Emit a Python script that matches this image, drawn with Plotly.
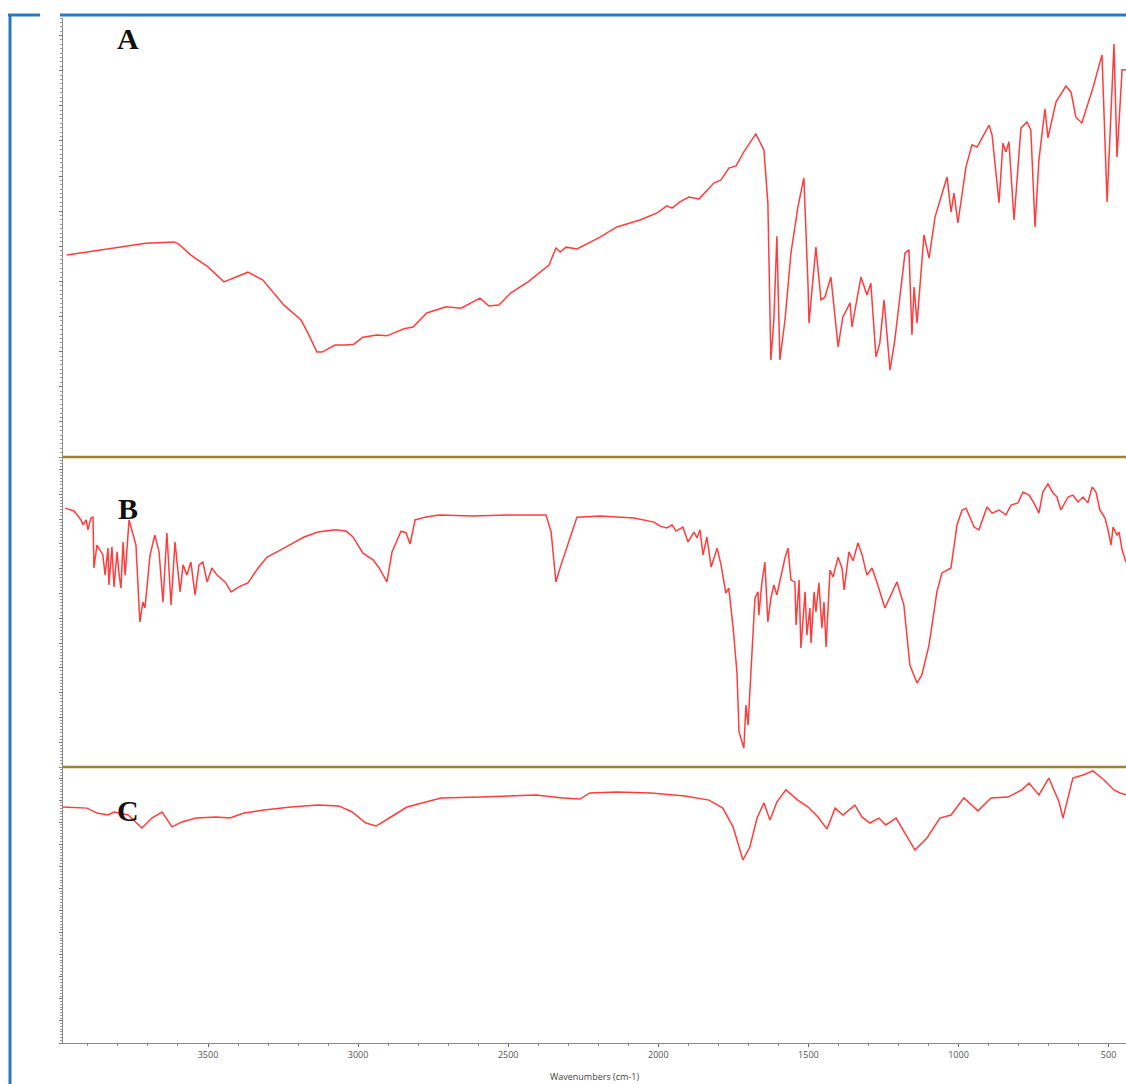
import plotly.graph_objects as go

# FTIR spectra (wavenumber in cm-1, transmittance in arbitrary % units)
wn_a = [3970, 3856, 3707, 3613, 3597, 3557, 3500, 3447, 3407, 3367, 3317, 3247, 3190, 3167,
        3137, 3120, 3077, 3040, 3014, 2984, 2937, 2904, 2847, 2817, 2771, 2707, 2657, 2594,
        2564, 2531, 2491, 2434, 2364, 2341, 2327, 2307, 2271, 2194, 2138, 2061, 2004, 1971,
        1954, 1928, 1898, 1864, 1815, 1791, 1765, 1741, 1715, 1675, 1648, 1635, 1625, 1615,
        1605, 1595, 1578, 1558, 1535, 1515, 1501, 1498, 1485, 1475, 1458, 1445, 1425, 1401,
        1385, 1361, 1355, 1325, 1305, 1292, 1275, 1262, 1248, 1228, 1212, 1178, 1165, 1155,
        1148, 1138, 1115, 1098, 1078, 1038, 1025, 1015, 1002, 975, 955, 938, 898, 888, 865,
        852, 842, 832, 815, 792, 772, 759, 745, 732, 712, 702, 675, 642, 625, 609, 589, 552,
        522, 505, 482, 472, 455, 442]
t_a = [46.0, 47.2, 48.7, 49.0, 48.5, 46.0, 43.3, 39.9, 41.0, 42.1, 40.3, 34.6, 31.2, 28.2,
       23.9, 23.9, 25.5, 25.5, 25.7, 27.3, 27.8, 27.6, 29.2, 29.6, 32.8, 34.2, 33.9, 36.2,
       34.4, 34.6, 37.4, 39.9, 43.7, 47.6, 46.7, 47.8, 47.4, 50.1, 52.4, 54.0, 55.6, 57.2,
       56.7, 58.1, 59.2, 58.8, 62.4, 63.1, 65.8, 66.3, 69.5, 73.6, 69.9, 57.9, 22.1, 31.2,
       50.3, 22.1, 31.2, 46.5, 56.9, 63.6, 38.7, 30.5, 40.3, 47.8, 35.8, 36.4, 41.0, 25.1,
       31.9, 35.1, 29.6, 41.0, 36.9, 39.6, 22.8, 26.0, 35.8, 19.8, 26.7, 46.5, 47.2, 27.8,
       38.7, 30.5, 50.6, 45.3, 54.7, 63.8, 55.8, 60.1, 53.3, 66.1, 71.1, 70.6, 75.6, 73.3, 57.9,
       71.5, 69.5, 71.8, 54.0, 74.9, 76.3, 74.5, 52.4, 67.7, 79.3, 72.7, 80.9, 84.5, 83.1, 77.4,
       76.1, 84.1, 91.6, 58.1, 94.1, 68.3, 88.2, 88.2]

wn_b = [3976, 3946, 3923, 3916, 3906, 3900, 3890, 3883, 3880, 3870, 3856, 3850, 3843, 3833,
        3830, 3820, 3813, 3803, 3796, 3790, 3783, 3776, 3763, 3753, 3740, 3727, 3717, 3710,
        3693, 3677, 3663, 3650, 3637, 3623, 3610, 3593, 3583, 3570, 3557, 3543, 3530, 3517,
        3503, 3487, 3470, 3443, 3423, 3397, 3367, 3333, 3303, 3247, 3180, 3134, 3077, 3040,
        3017, 2984, 2950, 2930, 2904, 2887, 2857, 2840, 2827, 2810, 2777, 2731, 2617, 2501,
        2374, 2357, 2341, 2324, 2294, 2271, 2194, 2081, 2014, 1994, 1971, 1954, 1941, 1918,
        1901, 1881, 1871, 1861, 1851, 1838, 1824, 1804, 1791, 1775, 1765, 1751, 1738, 1731,
        1715, 1708, 1701, 1688, 1678, 1668, 1665, 1655, 1645, 1635, 1625, 1615, 1605, 1578,
        1568, 1558, 1545, 1541, 1531, 1525, 1511, 1505, 1495, 1491, 1481, 1475, 1465, 1455,
        1448, 1441, 1428, 1418, 1401, 1388, 1381, 1365, 1351, 1335, 1321, 1305, 1288, 1272,
        1245, 1205, 1182, 1162, 1138, 1122, 1098, 1072, 1055, 1025, 1005, 988, 975, 948, 932,
        905, 888, 865, 842, 825, 802, 785, 765, 749, 732, 719, 702, 685, 672, 659, 635, 619,
        602, 585, 569, 555, 542, 529, 512, 502, 492, 485, 472, 465, 455, 442]
t_b = [83.5, 82.6, 79.7, 78.1, 79.7, 76.5, 80.3, 80.6, 64.2, 71.6, 69.4, 68.4, 61.9, 70.6,
       58.7, 71.0, 58.1, 69.4, 61.9, 57.7, 72.6, 61.9, 79.7, 76.5, 71.6, 46.8, 53.2, 51.3,
       68.4, 74.8, 69.4, 53.2, 75.5, 52.3, 72.6, 56.5, 65.2, 61.9, 66.1, 55.5, 65.2, 66.1,
       59.7, 64.2, 61.9, 59.7, 56.5, 58.1, 59.4, 64.2, 67.7, 70.6, 74.2, 75.8, 76.5, 76.1,
       74.2, 69.0, 66.8, 64.2, 59.7, 69.4, 76.1, 75.5, 71.9, 79.7, 80.6, 81.3, 81.0, 81.3,
       81.3, 75.8, 59.7, 65.2, 73.9, 80.6, 81.0, 80.3, 79.0, 77.7, 77.1, 78.1, 76.1, 77.4,
       72.6, 75.8, 73.9, 76.5, 68.4, 74.2, 64.5, 70.6, 65.2, 56.1, 57.7, 45.2, 30.6, 11.3,
       6.1, 20.0, 13.5, 36.1, 54.5, 56.5, 49.0, 59.4, 66.1, 46.8, 54.5, 58.7, 55.5, 67.4,
       70.6, 60.3, 59.7, 45.8, 60.3, 38.4, 56.5, 42.6, 51.3, 40.0, 56.5, 50.0, 59.4, 44.8,
       53.2, 38.7, 63.5, 61.3, 67.7, 64.2, 57.1, 69.4, 66.5, 72.3, 68.4, 61.9, 64.2, 59.7,
       51.3, 59.7, 52.3, 32.9, 27.1, 29.7, 39.4, 56.5, 62.6, 64.2, 78.1, 82.9, 83.5, 77.4, 76.5,
       83.9, 81.9, 82.9, 81.3, 84.5, 85.2, 88.7, 87.7, 85.2, 81.9, 88.7, 91.3, 88.4, 87.1, 82.9,
       87.1, 87.7, 85.5, 87.1, 85.2, 90.3, 88.7, 82.9, 80.3, 76.5, 71.6, 77.4, 74.8, 75.8,
       70.0, 66.1]

wn_c = [3983, 3903, 3870, 3833, 3813, 3766, 3720, 3687, 3653, 3620, 3587, 3540, 3473, 3427,
        3380, 3313, 3224, 3134, 3064, 3020, 2974, 2940, 2907, 2837, 2724, 2591, 2407, 2374,
        2317, 2261, 2228, 2138, 2024, 1911, 1831, 1785, 1751, 1718, 1695, 1671, 1648, 1628,
        1605, 1575, 1535, 1501, 1468, 1438, 1411, 1385, 1345, 1322, 1295, 1265, 1242, 1208,
        1175, 1145, 1105, 1062, 1025, 982, 935, 892, 835, 789, 765, 732, 699, 665, 652, 619,
        585, 552, 515, 482, 462, 442]
t_c = [85.5, 85.1, 83.3, 82.6, 83.7, 82.6, 77.9, 81.5, 83.7, 78.3, 80.1, 81.5, 81.9, 81.5,
       83.3, 84.4, 85.5, 86.2, 85.9, 83.7, 79.7, 78.6, 80.8, 85.5, 88.8, 89.1, 89.9, 89.5,
       88.8, 88.4, 90.6, 90.9, 90.6, 89.5, 88.0, 85.1, 78.3, 66.3, 71.0, 81.5, 87.0, 80.8,
       87.3, 91.7, 88.0, 85.5, 81.9, 77.5, 85.1, 82.6, 86.2, 81.9, 79.7, 81.5, 79.0, 81.5,
       75.4, 69.9, 74.3, 81.5, 82.6, 88.8, 84.1, 88.8, 89.1, 91.7, 94.2, 89.9, 96.0, 87.3,
       81.5, 96.0, 97.1, 98.6, 95.3, 91.7, 90.6, 89.9]

panel_labels = ["A", "B", "C"]
x_tick_values = [3500, 3000, 2500, 2000, 1500, 1000, 500]
x_title = "Wavenumbers (cm-1)"

W, H = 1126, 1084
ML, MR, MT, MB = 63, 0, 18, 41
plot_h = H - MT - MB

# vertical pixel boundaries of the three stacked panels
bounds = [18, 457, 767, 1043]
dom = [((H - MB - b2) / plot_h, (H - MB - b1) / plot_h) for b1, b2 in zip(bounds[:-1], bounds[1:])]

RED = "#ff3d3d"
fig = go.Figure()
for i, (wn, t) in enumerate([(wn_a, t_a), (wn_b, t_b), (wn_c, t_c)]):
    fig.add_trace(go.Scatter(x=wn, y=t, mode="lines", xaxis="x",
                             yaxis="y" if i == 0 else f"y{i+1}",
                             line=dict(color=RED, width=1.5), showlegend=False,
                             hoverinfo="x+y"))

yax_common = dict(range=[0, 100], showgrid=False, zeroline=False, showline=True,
                  linecolor="#8a8a8a", linewidth=1, ticks="outside", ticklen=3,
                  tickcolor="#777", dtick=8, showticklabels=False,
                  minor=dict(ticks="outside", ticklen=2, tickcolor="#999", dtick=1),
                  anchor="x", fixedrange=True)

layout = dict(
    width=W, height=H,
    margin=dict(l=ML, r=MR, t=MT, b=MB),
    paper_bgcolor="white", plot_bgcolor="white",
    xaxis=dict(range=[3983, 442], anchor="y3", showgrid=False, zeroline=False,
               showline=True, linecolor="#8a8a8a", linewidth=1,
               tickmode="array", tickvals=x_tick_values,
               ticks="outside", ticklen=3, tickcolor="#666",
               minor=dict(ticks="outside", ticklen=2, tickcolor="#888", dtick=100, tick0=0),
               tickfont=dict(family="Open Sans", size=9, color="#555"),
               title=dict(text=x_title, standoff=13,
                          font=dict(family="Open Sans", size=9, color="#444"))),
    yaxis=dict(domain=list(dom[0]), **yax_common),
    yaxis2=dict(domain=list(dom[1]), **yax_common),
    yaxis3=dict(domain=list(dom[2]), **yax_common),
)
fig.update_layout(**layout)

# gold separators between panels
for d in (dom[0][0], dom[1][0]):
    fig.add_shape(type="line", xref="paper", yref="paper", x0=0, x1=1, y0=d, y1=d,
                  line=dict(color="#9e8030", width=2.5))

# blue frame drawn around the figure
BLUE = "#2a78c2"
def px_x(p):
    return (p - ML) / (W - ML - MR)
def px_y(p):
    return (H - MB - p) / plot_h
fig.add_shape(type="line", xref="paper", yref="paper", x0=px_x(10), x1=px_x(10),
              y0=px_y(14), y1=px_y(H), line=dict(color=BLUE, width=3))
fig.add_shape(type="line", xref="paper", yref="paper", x0=px_x(8), x1=px_x(40),
              y0=px_y(15), y1=px_y(15), line=dict(color=BLUE, width=3))
fig.add_shape(type="line", xref="paper", yref="paper", x0=px_x(60), x1=1.0,
              y0=px_y(15), y1=px_y(15), line=dict(color=BLUE, width=3))

# panel letters
label_pos = [(128, 38), (128, 508), (128, 810)]
for txt, (lx, ly) in zip(panel_labels, label_pos):
    fig.add_annotation(text=f"<b>{txt}</b>", xref="paper", yref="paper",
                       x=px_x(lx), y=px_y(ly), xanchor="center", yanchor="middle",
                       showarrow=False,
                       font=dict(family="Liberation Serif", size=30, color="#111"))

fig.write_html("out.html")
